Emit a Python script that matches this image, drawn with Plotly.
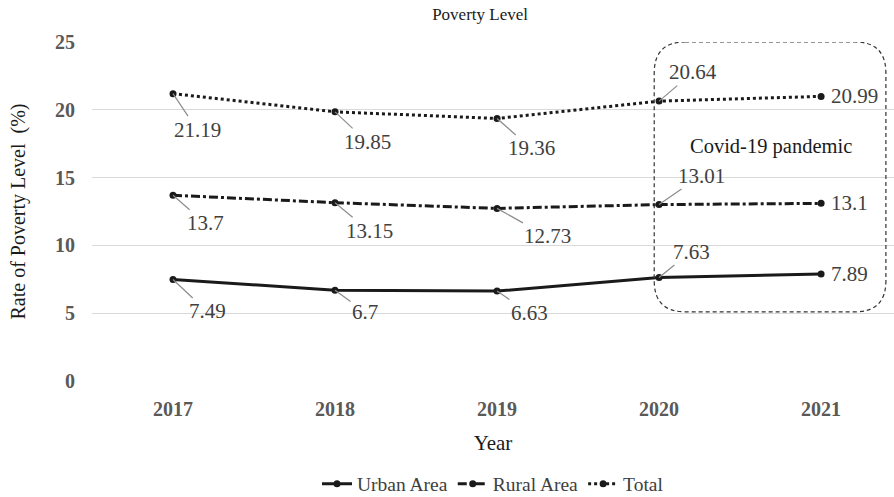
import plotly.graph_objects as go

years = ["2017", "2018", "2019", "2020", "2021"]
urban = [7.49, 6.7, 6.63, 7.63, 7.89]
rural = [13.7, 13.15, 12.73, 13.01, 13.1]
total = [21.19, 19.85, 19.36, 20.64, 20.99]

# label offsets (pixels) from each point: (ax, ay); None -> label placed to the right
urban_off = [(34, 32), (30, 22), (32, 22), (32, -26), None]
rural_off = [(32, 28), (34, 28), (50, 28), (42, -29), None]
total_off = [(24, 36), (32, 30), (34, 30), (34, -29), None]

xs = list(range(len(years)))
FONT = "Liberation Serif, Times New Roman, serif"
LABEL = dict(family=FONT, size=21, color="#404040")

fig = go.Figure()
series = [
    ("Urban Area", urban, "solid"),
    ("Rural Area", rural, "dashdot"),
    ("Total", total, "dot"),
]
for name, vals, dash in series:
    fig.add_trace(go.Scatter(
        x=xs, y=vals, name=name, mode="lines+markers",
        line=dict(color="#1a1a1a", width=3, dash=dash),
        marker=dict(color="#1a1a1a", size=7, symbol="circle"),
    ))

annotations = []
for vals, offs in [(urban, urban_off), (rural, rural_off), (total, total_off)]:
    for i, (v, off) in enumerate(zip(vals, offs)):
        if off is None:
            annotations.append(dict(
                x=xs[i], y=v, text=f"{v:g}", showarrow=False, xanchor="left",
                xshift=8, font=LABEL))
        else:
            annotations.append(dict(
                x=xs[i], y=v, text=f"{v:g}", showarrow=True, arrowhead=0,
                arrowwidth=1.2, arrowcolor="#8c8c8c", ax=off[0], ay=off[1],
                standoff=0, font=LABEL))

annotations.append(dict(
    x=3.69, y=17.3, text="Covid-19 pandemic", showarrow=False,
    font=dict(family=FONT, size=20.5, color="#1a1a1a")))

# rounded dashed frame around the pandemic years
x0, x1, y0, y1 = 2.97, 4.4, 5.1, 25.0
rx, ry = 0.19, 2.3
path = (f"M {x0 + rx},{y1} L {x1 - rx},{y1} Q {x1},{y1} {x1},{y1 - ry} "
        f"L {x1},{y0 + ry} Q {x1},{y0} {x1 - rx},{y0} "
        f"L {x0 + rx},{y0} Q {x0},{y0} {x0},{y0 + ry} "
        f"L {x0},{y1 - ry} Q {x0},{y1} {x0 + rx},{y1} Z")

fig.update_layout(
    width=894, height=497,
    margin=dict(l=92, r=0, t=42, b=116, autoexpand=False),
    paper_bgcolor="white", plot_bgcolor="white",
    title=dict(text="Poverty Level", x=0.537, xanchor="center", y=0.972, yanchor="middle",
               font=dict(family=FONT, size=17, color="#1a1a1a")),
    font=dict(family=FONT),
    showlegend=True,
    legend=dict(orientation="h", x=0.5, xanchor="center", y=-0.304, yanchor="middle",
                font=dict(family=FONT, size=19.5, color="#404040"),
                itemwidth=30, tracegroupgap=0),
    annotations=annotations,
    shapes=[dict(type="path", path=path, xref="x", yref="y",
                 line=dict(color="#333333", width=1.2, dash="4px,3px"))],
)
fig.update_xaxes(
    range=[-0.5, 4.45], tickvals=xs, ticktext=years,
    showgrid=False, zeroline=False, showline=False,
    tickfont=dict(family=FONT, size=20, color="#595959", weight="bold"),
    title=dict(text="Year", font=dict(family=FONT, size=21, color="#1a1a1a"), standoff=16),
    ticklabelstandoff=14,
)
fig.update_yaxes(
    range=[0, 25], dtick=5, showgrid=True, gridcolor="#d9d9d9", gridwidth=1.3,
    zeroline=False, showline=False,
    tickfont=dict(family=FONT, size=20, color="#595959", weight="bold"),
    title=dict(text="Rate of Poverty Level  (%)", font=dict(family=FONT, size=20, color="#1a1a1a"),
               standoff=24),
    ticklabelstandoff=16,
)

fig.write_html("out.html")
